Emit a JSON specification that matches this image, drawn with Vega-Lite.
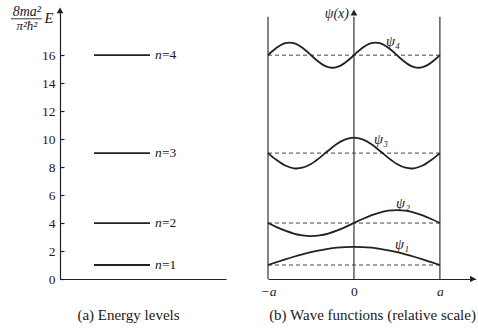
{
  "$schema": "https://vega.github.io/schema/vega-lite/v6.json",
  "background": "white",
  "padding": {"left": 10, "top": 4, "right": 0, "bottom": 0},
  "spacing": 42,
  "bounds": "flush",
  "config": {
    "view": {"stroke": null},
    "font": "Liberation Serif",
    "axis": {"grid": false, "labelOverlap": false, "domainColor": "#222", "tickColor": "#222", "labelColor": "#1a1a1a", "titleColor": "#1a1a1a", "labelFont": "Liberation Serif", "titleFont": "Liberation Serif", "titleFontWeight": "normal"},
    "text": {"font": "Liberation Serif", "color": "#1a1a1a"}
  },
  "datasets": {
    "levels": [
      {"n": 1, "E": 1, "eq": "=1"},
      {"n": 2, "E": 4, "eq": "=2"},
      {"n": 3, "E": 9, "eq": "=3"},
      {"n": 4, "E": 16, "eq": "=4"}
    ],
    "waves": [
      {"n": 1, "x": -1, "y": 1.0}, {"n": 1, "x": -0.9, "y": 1.203}, {"n": 1, "x": -0.8, "y": 1.402}, {"n": 1, "x": -0.7, "y": 1.59}, {"n": 1, "x": -0.6, "y": 1.764}, {"n": 1, "x": -0.5, "y": 1.919}, {"n": 1, "x": -0.4, "y": 2.052}, {"n": 1, "x": -0.3, "y": 2.158}, {"n": 1, "x": -0.2, "y": 2.236}, {"n": 1, "x": -0.1, "y": 2.284}, {"n": 1, "x": 0, "y": 2.3}, {"n": 1, "x": 0.1, "y": 2.284}, {"n": 1, "x": 0.2, "y": 2.236}, {"n": 1, "x": 0.3, "y": 2.158}, {"n": 1, "x": 0.4, "y": 2.052}, {"n": 1, "x": 0.5, "y": 1.919}, {"n": 1, "x": 0.6, "y": 1.764}, {"n": 1, "x": 0.7, "y": 1.59}, {"n": 1, "x": 0.8, "y": 1.402}, {"n": 1, "x": 0.9, "y": 1.203}, {"n": 1, "x": 1, "y": 1.0},
      {"n": 2, "x": -1, "y": 4.0}, {"n": 2, "x": -0.9, "y": 3.713}, {"n": 2, "x": -0.8, "y": 3.453}, {"n": 2, "x": -0.7, "y": 3.248}, {"n": 2, "x": -0.6, "y": 3.115}, {"n": 2, "x": -0.5, "y": 3.07}, {"n": 2, "x": -0.4, "y": 3.115}, {"n": 2, "x": -0.3, "y": 3.248}, {"n": 2, "x": -0.2, "y": 3.453}, {"n": 2, "x": -0.1, "y": 3.713}, {"n": 2, "x": 0, "y": 4.0}, {"n": 2, "x": 0.1, "y": 4.287}, {"n": 2, "x": 0.2, "y": 4.547}, {"n": 2, "x": 0.3, "y": 4.752}, {"n": 2, "x": 0.4, "y": 4.885}, {"n": 2, "x": 0.5, "y": 4.93}, {"n": 2, "x": 0.6, "y": 4.885}, {"n": 2, "x": 0.7, "y": 4.752}, {"n": 2, "x": 0.8, "y": 4.547}, {"n": 2, "x": 0.9, "y": 4.287}, {"n": 2, "x": 1, "y": 4.0},
      {"n": 3, "x": -1, "y": 9.0}, {"n": 3, "x": -0.9, "y": 8.501}, {"n": 3, "x": -0.8, "y": 8.11}, {"n": 3, "x": -0.7, "y": 7.914}, {"n": 3, "x": -0.667, "y": 7.9}, {"n": 3, "x": -0.6, "y": 7.954}, {"n": 3, "x": -0.5, "y": 8.222}, {"n": 3, "x": -0.4, "y": 8.66}, {"n": 3, "x": -0.3, "y": 9.172}, {"n": 3, "x": -0.2, "y": 9.647}, {"n": 3, "x": -0.1, "y": 9.98}, {"n": 3, "x": 0, "y": 10.1}, {"n": 3, "x": 0.1, "y": 9.98}, {"n": 3, "x": 0.2, "y": 9.647}, {"n": 3, "x": 0.3, "y": 9.172}, {"n": 3, "x": 0.4, "y": 8.66}, {"n": 3, "x": 0.5, "y": 8.222}, {"n": 3, "x": 0.6, "y": 7.954}, {"n": 3, "x": 0.667, "y": 7.9}, {"n": 3, "x": 0.7, "y": 7.914}, {"n": 3, "x": 0.8, "y": 8.11}, {"n": 3, "x": 0.9, "y": 8.501}, {"n": 3, "x": 1, "y": 9.0},
      {"n": 4, "x": -1, "y": 16.0}, {"n": 4, "x": -0.95, "y": 16.278}, {"n": 4, "x": -0.9, "y": 16.529}, {"n": 4, "x": -0.85, "y": 16.728}, {"n": 4, "x": -0.8, "y": 16.856}, {"n": 4, "x": -0.75, "y": 16.9}, {"n": 4, "x": -0.7, "y": 16.856}, {"n": 4, "x": -0.65, "y": 16.728}, {"n": 4, "x": -0.6, "y": 16.529}, {"n": 4, "x": -0.55, "y": 16.278}, {"n": 4, "x": -0.5, "y": 16.0}, {"n": 4, "x": -0.45, "y": 15.722}, {"n": 4, "x": -0.4, "y": 15.471}, {"n": 4, "x": -0.35, "y": 15.272}, {"n": 4, "x": -0.3, "y": 15.144}, {"n": 4, "x": -0.25, "y": 15.1}, {"n": 4, "x": -0.2, "y": 15.144}, {"n": 4, "x": -0.15, "y": 15.272}, {"n": 4, "x": -0.1, "y": 15.471}, {"n": 4, "x": -0.05, "y": 15.722}, {"n": 4, "x": 0, "y": 16.0}, {"n": 4, "x": 0.05, "y": 16.278}, {"n": 4, "x": 0.1, "y": 16.529}, {"n": 4, "x": 0.15, "y": 16.728}, {"n": 4, "x": 0.2, "y": 16.856}, {"n": 4, "x": 0.25, "y": 16.9}, {"n": 4, "x": 0.3, "y": 16.856}, {"n": 4, "x": 0.35, "y": 16.728}, {"n": 4, "x": 0.4, "y": 16.529}, {"n": 4, "x": 0.45, "y": 16.278}, {"n": 4, "x": 0.5, "y": 16.0}, {"n": 4, "x": 0.55, "y": 15.722}, {"n": 4, "x": 0.6, "y": 15.471}, {"n": 4, "x": 0.65, "y": 15.272}, {"n": 4, "x": 0.7, "y": 15.144}, {"n": 4, "x": 0.75, "y": 15.1}, {"n": 4, "x": 0.8, "y": 15.144}, {"n": 4, "x": 0.85, "y": 15.272}, {"n": 4, "x": 0.9, "y": 15.471}, {"n": 4, "x": 0.95, "y": 15.722}, {"n": 4, "x": 1, "y": 16.0}
    ],
    "verticals": [{"x": -1}, {"x": 0}, {"x": 1}],
    "one": [{}]
  },
  "hconcat": [
    {
      "width": 166,
      "height": 270,
      "encoding": {
        "x": {"type": "quantitative", "scale": {"domain": [0, 1], "nice": false, "zero": false},
          "axis": {"orient": "bottom", "ticks": false, "labels": false, "domain": true, "domainWidth": 1.2, "title": "(a) Energy levels", "titleFontSize": 15, "titlePadding": 28, "titleX": 68}},
        "y": {"type": "quantitative", "scale": {"domain": [0, 19.3], "nice": false, "zero": false},
          "axis": {"values": [0, 2, 4, 6, 8, 10, 12, 14, 16], "tickSize": -4, "tickWidth": 1.2, "labelPadding": 9, "domainWidth": 1.2, "title": null, "labelFontSize": 13.5, "labelFlush": false, "labelOverlap": false, "labelSeparation": 0}}
      },
      "layer": [
        {
          "data": {"name": "levels"},
          "mark": {"type": "rule", "strokeWidth": 1.8, "color": "#222"},
          "encoding": {
            "x": {"datum": 0.205, "type": "quantitative", "scale": {"domain": [0, 1], "nice": false, "zero": false},
              "axis": {"orient": "bottom", "ticks": false, "labels": false, "domain": true, "domainWidth": 1.2, "title": "(a) Energy levels", "titleFontSize": 15, "titlePadding": 28, "titleX": 68}},
            "x2": {"datum": 0.542},
            "y": {"field": "E", "type": "quantitative", "scale": {"domain": [0, 19.3], "nice": false, "zero": false},
              "axis": {"values": [0, 2, 4, 6, 8, 10, 12, 14, 16], "tickSize": -4, "tickWidth": 1.2, "labelPadding": 9, "domainWidth": 1.2, "title": null, "labelFontSize": 13.5, "labelFlush": false, "labelOverlap": false, "labelSeparation": 0}}
          }
        },
        {
          "data": {"name": "levels"},
          "mark": {"type": "text", "align": "left", "baseline": "middle", "fontStyle": "italic", "fontSize": 13.5},
          "encoding": {"x": {"datum": 0.572}, "y": {"field": "E"}, "text": {"value": "n"}}
        },
        {
          "data": {"name": "levels"},
          "mark": {"type": "text", "align": "left", "baseline": "middle", "fontSize": 13.5, "dx": 7},
          "encoding": {"x": {"datum": 0.572}, "y": {"field": "E"}, "text": {"field": "eq"}}
        },
        {
          "data": {"name": "one"},
          "mark": {"type": "point", "shape": "triangle-up", "filled": true, "color": "#222", "size": 45, "opacity": 1},
          "encoding": {"x": {"datum": 0}, "y": {"datum": 19.2}}
        },
        {
          "data": {"name": "one"},
          "mark": {"type": "text", "align": "center", "baseline": "middle", "fontStyle": "italic", "fontSize": 14},
          "encoding": {"x": {"datum": -0.2}, "y": {"datum": 19.1}, "text": {"value": "8ma²"}}
        },
        {
          "data": {"name": "one"},
          "mark": {"type": "rule", "color": "#222", "strokeWidth": 0.9},
          "encoding": {"x": {"datum": -0.295}, "x2": {"datum": -0.11}, "y": {"datum": 18.6}}
        },
        {
          "data": {"name": "one"},
          "mark": {"type": "text", "align": "center", "baseline": "middle", "fontStyle": "italic", "fontSize": 13},
          "encoding": {"x": {"datum": -0.2}, "y": {"datum": 18.1}, "text": {"value": "π²ħ²"}}
        },
        {
          "data": {"name": "one"},
          "mark": {"type": "text", "align": "center", "baseline": "middle", "fontStyle": "italic", "fontSize": 14.5},
          "encoding": {"x": {"datum": -0.066}, "y": {"datum": 18.57}, "text": {"value": "E"}}
        }
      ]
    },
    {
      "width": 208,
      "height": 270,
      "layer": [
        {
          "data": {"name": "verticals"},
          "mark": {"type": "rule", "strokeWidth": 1.2, "color": "#333"},
          "encoding": {
            "x": {"field": "x", "type": "quantitative", "scale": {"domain": [-1, 1.42], "nice": false, "zero": false},
              "axis": {"values": [-1, 0, 1], "labelExpr": "datum.value == -1 ? '−a' : (datum.value == 1 ? 'a' : '0')", "ticks": false, "labelFontSize": 13.5,
                "labelFontStyle": {"condition": {"test": "datum.value == 0", "value": "normal"}, "value": "italic"},
                "labelPadding": 5, "labelFlush": false, "labelOverlap": false, "labelBound": false,
                "title": "(b) Wave functions (relative scale)", "titleFontSize": 15, "titlePadding": 10, "domainWidth": 1.2}},
            "y": {"datum": 0, "type": "quantitative", "scale": {"domain": [0, 19.3], "nice": false, "zero": false}, "axis": null},
            "y2": {"datum": 18.75}
          }
        },
        {
          "data": {"name": "levels"},
          "mark": {"type": "rule", "strokeWidth": 1, "color": "#444", "strokeDash": [4, 3]},
          "encoding": {"x": {"datum": -1, "type": "quantitative"}, "x2": {"datum": 1}, "y": {"field": "E", "type": "quantitative"}}
        },
        {
          "data": {"name": "waves"},
          "mark": {"type": "line", "strokeWidth": 1.8, "color": "#222", "interpolate": "monotone"},
          "encoding": {"x": {"field": "x", "type": "quantitative"}, "y": {"field": "y", "type": "quantitative"}, "detail": {"field": "n"}}
        },
        {
          "data": {"name": "one"},
          "mark": {"type": "text", "align": "center", "baseline": "middle", "fontStyle": "italic", "fontSize": 14.5},
          "encoding": {"x": {"datum": 0.454, "type": "quantitative"}, "y": {"datum": 16.93, "type": "quantitative"}, "text": {"value": "ψ₄"}}
        },
        {
          "data": {"name": "one"},
          "mark": {"type": "text", "align": "center", "baseline": "middle", "fontStyle": "italic", "fontSize": 14.5},
          "encoding": {"x": {"datum": 0.314, "type": "quantitative"}, "y": {"datum": 9.93, "type": "quantitative"}, "text": {"value": "ψ₃"}}
        },
        {
          "data": {"name": "one"},
          "mark": {"type": "text", "align": "center", "baseline": "middle", "fontStyle": "italic", "fontSize": 14.5},
          "encoding": {"x": {"datum": 0.57, "type": "quantitative"}, "y": {"datum": 5.36, "type": "quantitative"}, "text": {"value": "ψ₂"}}
        },
        {
          "data": {"name": "one"},
          "mark": {"type": "text", "align": "center", "baseline": "middle", "fontStyle": "italic", "fontSize": 14.5},
          "encoding": {"x": {"datum": 0.558, "type": "quantitative"}, "y": {"datum": 2.43, "type": "quantitative"}, "text": {"value": "ψ₁"}}
        },
        {
          "data": {"name": "one"},
          "mark": {"type": "text", "align": "right", "baseline": "middle", "fontStyle": "italic", "fontSize": 14},
          "encoding": {"x": {"datum": -0.058, "type": "quantitative"}, "y": {"datum": 18.93, "type": "quantitative"}, "text": {"value": "ψ(x)"}}
        },
        {
          "data": {"name": "one"},
          "mark": {"type": "point", "shape": "triangle-up", "filled": true, "color": "#222", "size": 45, "opacity": 1},
          "encoding": {"x": {"datum": 0, "type": "quantitative"}, "y": {"datum": 19.05, "type": "quantitative"}}
        },
        {
          "data": {"name": "one"},
          "mark": {"type": "point", "shape": "triangle-right", "filled": true, "color": "#222", "size": 45, "opacity": 1},
          "encoding": {"x": {"datum": 1.385, "type": "quantitative"}, "y": {"datum": 0, "type": "quantitative"}}
        }
      ]
    }
  ]
}
